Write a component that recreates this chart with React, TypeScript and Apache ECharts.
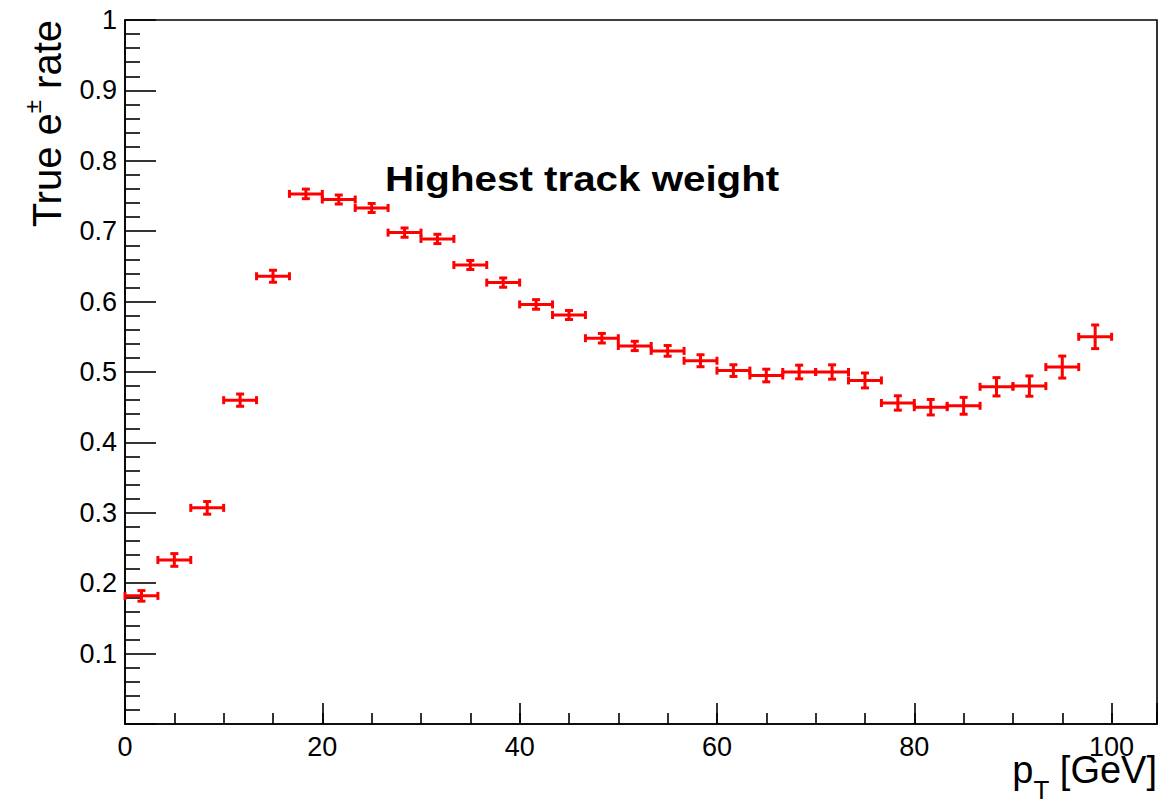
import React, { useEffect, useRef } from 'react';
import * as echarts from 'echarts';

// pT bin centres [GeV] and half bin widths
const binCenters = [
  1.667, 5.0, 8.333, 11.667, 15.0, 18.333, 21.667, 25.0, 28.333, 31.667,
  35.0, 38.333, 41.667, 45.0, 48.333, 51.667, 55.0, 58.333, 61.667, 65.0,
  68.333, 71.667, 75.0, 78.333, 81.667, 85.0, 88.333, 91.667, 95.0, 98.333,
];
const binHalfWidths = [
  1.667, 1.667, 1.667, 1.667, 1.667, 1.667, 1.667, 1.667, 1.667, 1.667,
  1.667, 1.667, 1.667, 1.667, 1.667, 1.667, 1.667, 1.667, 1.667, 1.667,
  1.667, 1.667, 1.667, 1.667, 1.667, 1.667, 1.667, 1.667, 1.667, 1.667,
];
// True e± rate and its uncertainty
const rates = [
  0.182, 0.233, 0.307, 0.46, 0.636, 0.753, 0.745, 0.733, 0.698, 0.689,
  0.652, 0.627, 0.596, 0.581, 0.548, 0.537, 0.53, 0.516, 0.502, 0.495,
  0.5, 0.5, 0.488, 0.456, 0.45, 0.452, 0.479, 0.48, 0.507, 0.55,
];
const rateErrors = [
  0.0075, 0.009, 0.009, 0.0087, 0.0085, 0.0068, 0.0064, 0.0064, 0.0066, 0.0066,
  0.0064, 0.0066, 0.0068, 0.0064, 0.0068, 0.0066, 0.0076, 0.0085, 0.0083, 0.009,
  0.0097, 0.0102, 0.0106, 0.0102, 0.011, 0.012, 0.013, 0.0144, 0.0156, 0.0168,
];

const xMin = 0;
const xMax = 104.6;
const yMin = 0;
const yMax = 1;

const plotTitle = 'Highest track weight';
const yTitle = 'True e{sup|±} rate';
const xTitle = 'p{sub|T} [GeV]';

const FONT = '"Liberation Sans", Arial, Helvetica, sans-serif';

export default function App() {
  const ref = useRef<HTMLDivElement>(null);

  useEffect(() => {
    if (!ref.current) return;
    const chart = echarts.init(ref.current, undefined, { renderer: 'svg' });
    const data = binCenters.map((x, i) => [x, rates[i], binHalfWidths[i], rateErrors[i]]);

    const axisLineStyle = { color: '#000', width: 1.6 };

    const option: any = {
      animation: false,
      backgroundColor: '#fff',
      grid: {
        left: 125,
        right: 8,
        top: 20,
        bottom: 76,
        show: true,
        borderColor: '#000',
        borderWidth: 1.6,
        backgroundColor: 'transparent',
      },
      xAxis: [
        {
          type: 'value',
          min: xMin,
          max: xMax,
          interval: 20,
          position: 'bottom',
          axisLine: { show: true, lineStyle: axisLineStyle },
          axisTick: { show: true, inside: true, length: 21, lineStyle: axisLineStyle },
          axisLabel: {
            color: '#000',
            fontFamily: FONT,
            fontSize: 27,
            margin: 9,
            formatter: (v: number) => (Math.abs(v % 20) < 1e-6 ? String(v) : ''),
          },
          splitLine: { show: false },
        },
        {
          type: 'value',
          min: xMin,
          max: xMax,
          interval: 5,
          position: 'bottom',
          axisLine: { show: false },
          axisTick: { show: true, inside: true, length: 11, lineStyle: axisLineStyle },
          axisLabel: { show: false },
          splitLine: { show: false },
        },
      ],
      yAxis: {
        type: 'value',
        min: yMin,
        max: yMax,
        interval: 0.1,
        axisLine: { show: true, lineStyle: axisLineStyle },
        axisTick: { show: true, inside: true, length: 31, lineStyle: axisLineStyle },
        minorTick: { show: true, splitNumber: 5, length: 15, lineStyle: axisLineStyle },
        axisLabel: {
          color: '#000',
          fontFamily: FONT,
          fontSize: 27,
          margin: 8,
          formatter: (v: number) => (v === 0 ? '' : String(+v.toFixed(1))),
        },
        splitLine: { show: false },
        minorSplitLine: { show: false },
      },
      series: [
        {
          type: 'custom',
          xAxisIndex: 0,
          yAxisIndex: 0,
          encode: { x: 0, y: 1 },
          data,
          renderItem: (_params: any, api: any) => {
            const x = api.value(0);
            const y = api.value(1);
            const xe = api.value(2);
            const ye = api.value(3);
            const c = api.coord([x, y]);
            const l = api.coord([x - xe, y]);
            const r = api.coord([x + xe, y]);
            const t = api.coord([x, y + ye]);
            const b = api.coord([x, y - ye]);
            const cap = 4;
            const style = { stroke: '#ff0000', lineWidth: 3 };
            const line = (x1: number, y1: number, x2: number, y2: number) => ({
              type: 'line',
              shape: { x1, y1, x2, y2 },
              style,
            });
            return {
              type: 'group',
              children: [
                line(l[0], c[1], r[0], c[1]),
                line(c[0], t[1], c[0], b[1]),
                line(l[0], c[1] - cap, l[0], c[1] + cap),
                line(r[0], c[1] - cap, r[0], c[1] + cap),
                line(c[0] - cap, t[1], c[0] + cap, t[1]),
                line(c[0] - cap, b[1], c[0] + cap, b[1]),
              ],
            };
          },
        },
      ],
      graphic: [
        {
          type: 'text',
          x: 385,
          y: 178,
          scaleX: 1.12,
          style: {
            text: plotTitle,
            fill: '#000',
            font: `bold 36px ${FONT}`,
            fontFamily: FONT,
            fontSize: 36,
            fontWeight: 'bold',
            align: 'left',
            textAlign: 'left',
            verticalAlign: 'middle',
            textVerticalAlign: 'middle',
          },
        },
        {
          type: 'text',
          x: 47,
          y: 20,
          rotation: Math.PI / 2,
          style: {
            text: yTitle,
            fill: '#000',
            fontFamily: FONT,
            fontSize: 40,
            align: 'right',
            textAlign: 'right',
            verticalAlign: 'middle',
            textVerticalAlign: 'middle',
            rich: {
              sup: { fontFamily: FONT, fontSize: 24, fill: '#000', padding: [0, 0, 30, 0] },
            },
          },
        },
        {
          type: 'text',
          x: 1157,
          y: 770,
          style: {
            text: xTitle,
            fill: '#000',
            fontFamily: FONT,
            fontSize: 38,
            align: 'right',
            textAlign: 'right',
            verticalAlign: 'middle',
            textVerticalAlign: 'middle',
            rich: {
              sub: { fontFamily: FONT, fontSize: 26, fill: '#000', padding: [40, 0, 0, 0] },
            },
          },
        },
      ],
    };

    chart.setOption(option);
    return () => chart.dispose();
  }, []);

  return (
    <div
      ref={ref}
      style={{ position: 'absolute', left: 0, top: 0, width: 1165, height: 800, background: '#fff' }}
    />
  );
}
